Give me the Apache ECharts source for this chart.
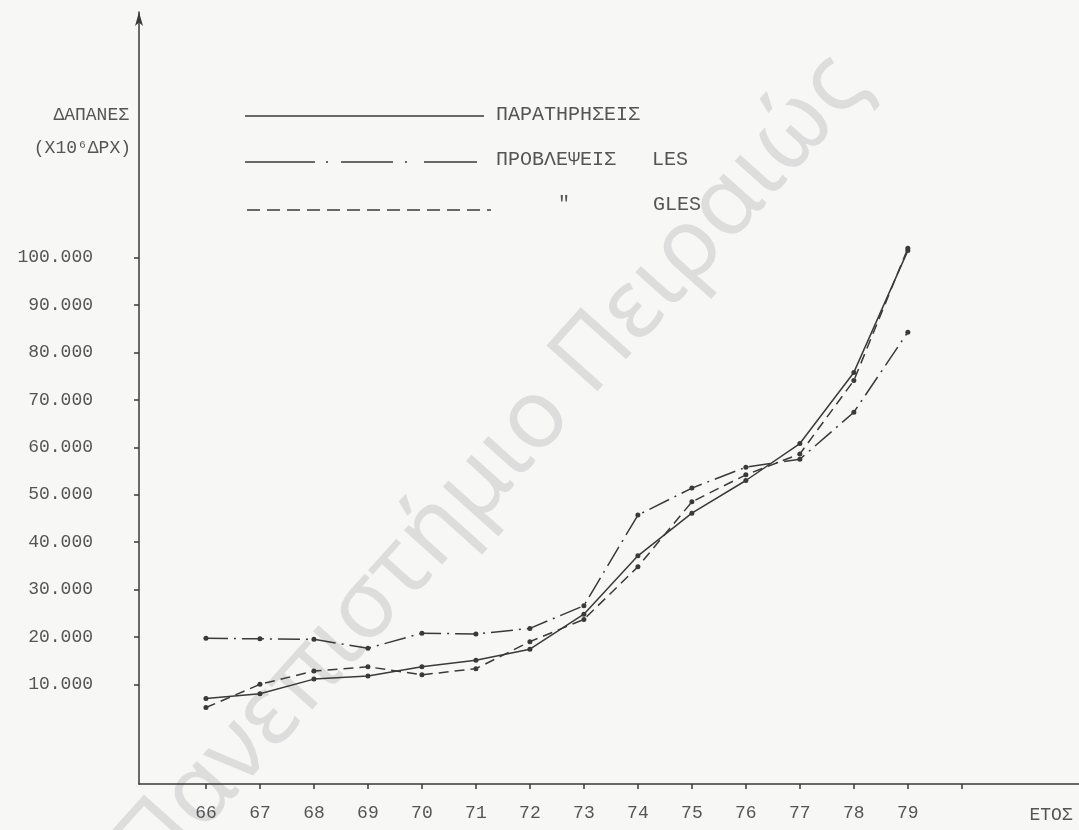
<!DOCTYPE html>
<html>
<head>
<meta charset="UTF-8">
<title>ΔΑΠΑΝΕΣ</title>
<script src="https://cdn.jsdelivr.net/npm/echarts@6/dist/echarts.min.js"></script>
<style>
  html, body { margin: 0; padding: 0; background: #f7f7f6; }
  #chart { width: 1079px; height: 830px; }
</style>
</head>
<body>
<div id="chart"></div>
<script>
// έτη και τιμές (x10^6 δρχ), διαβασμένα από το διάγραμμα
const years = [66, 67, 68, 69, 70, 71, 72, 73, 74, 75, 76, 77, 78, 79];
const observed = [7000, 8000, 11100, 11750, 13700, 15100, 17400, 24800, 37100, 46100, 53000, 60800, 75800, 101500];
const lesForecast = [19700, 19600, 19500, 17600, 20800, 20600, 21800, 26600, 45700, 51400, 55800, 57500, 67400, 84300];
const glesForecast = [5100, 10000, 12800, 13700, 12000, 13300, 19000, 23700, 34800, 48500, 54200, 58600, 74100, 102000];
const yTicks = [10000, 20000, 30000, 40000, 50000, 60000, 70000, 80000, 90000, 100000];
const xTicks = [66, 67, 68, 69, 70, 71, 72, 73, 74, 75, 76, 77, 78, 79, 80];

const ink = '#3a3a3a';
const textInk = '#555';
const mono = '"Liberation Mono", "DejaVu Sans Mono", monospace';

const pairs = arr => years.map((y, i) => [y, arr[i]]);
const fmt = v => Math.round(v / 1000) + '.000';

const chart = echarts.init(document.getElementById('chart'));

const lineSeries = (name, data, type) => ({
  name: name,
  type: 'line',
  data: pairs(data),
  symbol: 'circle',
  symbolSize: 5,
  itemStyle: { color: ink },
  lineStyle: { color: ink, width: 1.5, type: type },
  silent: true,
  animation: false
});

const option = {
  backgroundColor: '#f7f7f6',
  grid: { left: 139, right: 0, top: 12, bottom: 46, containLabel: false, outerBoundsMode: 'none' },
  xAxis: {
    type: 'value',
    min: 64.76,
    max: 82.17,
    splitLine: { show: false },
    axisLine: { onZero: false, lineStyle: { color: ink, width: 1.5 } },
    axisTick: { customValues: xTicks, length: 5, lineStyle: { color: ink, width: 1.5 } },
    axisLabel: {
      customValues: years,
      margin: 20,
      color: textInk,
      fontFamily: mono,
      fontSize: 18
    }
  },
  yAxis: {
    type: 'value',
    min: -11030,
    max: 151840,
    splitLine: { show: false },
    axisLine: {
      onZero: false,
      symbol: ['none', 'arrow'],
      symbolSize: [6, 14],
      lineStyle: { color: ink, width: 1.5 }
    },
    axisTick: { customValues: yTicks, length: 5, lineStyle: { color: ink, width: 1.5 } },
    axisLabel: {
      customValues: yTicks,
      margin: 46,
      color: textInk,
      fontFamily: mono,
      fontSize: 18,
      formatter: fmt
    }
  },
  series: [
    lineSeries('ΠΑΡΑΤΗΡΗΣΕΙΣ', observed, 'solid'),
    lineSeries('ΠΡΟΒΛΕΨΕΙΣ LES', lesForecast, [22, 6, 2, 6]),
    lineSeries('ΠΡΟΒΛΕΨΕΙΣ GLES', glesForecast, [10, 6])
  ],
  graphic: [
    // υδατογράφημα
    {
      type: 'text', x: 492, y: 468, rotation: 0.84, silent: true, z: -1,
      style: {
        text: 'Πανεπιστήμιο Πειραιώς', fill: 'rgba(0,0,0,0.1)',
        font: '96px "Noto Sans", sans-serif', align: 'center', verticalAlign: 'middle'
      }
    },
    // τίτλος άξονα y
    { type: 'text', x: 129, y: 115, style: { text: 'ΔΑΠΑΝΕΣ', fill: textInk, font: '18px ' + mono, align: 'right', verticalAlign: 'middle' } },
    { type: 'text', x: 131, y: 148, style: { text: '(X10⁶ΔΡΧ)', fill: textInk, font: '18px ' + mono, align: 'right', verticalAlign: 'middle' } },
    { type: 'text', x: 1051, y: 815, style: { text: 'ΕΤΟΣ', fill: textInk, font: '18px ' + mono, align: 'center', verticalAlign: 'middle' } },
    // υπόμνημα
    { type: 'line', shape: { x1: 245, y1: 116, x2: 484, y2: 116 }, style: { stroke: ink, lineWidth: 1.5 } },
    { type: 'line', shape: { x1: 245, y1: 162, x2: 477, y2: 162 }, style: { stroke: ink, lineWidth: 1.5, lineDash: [70, 11, 2, 13, 52, 12, 2, 17, 53, 100] } },
    { type: 'line', shape: { x1: 247, y1: 210, x2: 491, y2: 210 }, style: { stroke: ink, lineWidth: 1.5, lineDash: [13, 7] } },
    { type: 'text', x: 496, y: 115, style: { text: 'ΠΑΡΑΤΗΡΗΣΕΙΣ', fill: textInk, font: '20px ' + mono, verticalAlign: 'middle' } },
    { type: 'text', x: 496, y: 160, style: { text: 'ΠΡΟΒΛΕΨΕΙΣ   LES', fill: textInk, font: '20px ' + mono, verticalAlign: 'middle' } },
    { type: 'text', x: 564, y: 205, style: { text: '"', fill: textInk, font: '20px ' + mono, align: 'center', verticalAlign: 'middle' } },
    { type: 'text', x: 653, y: 205, style: { text: 'GLES', fill: textInk, font: '20px ' + mono, verticalAlign: 'middle' } }
  ]
};

chart.setOption(option);
</script>
</body>
</html>
